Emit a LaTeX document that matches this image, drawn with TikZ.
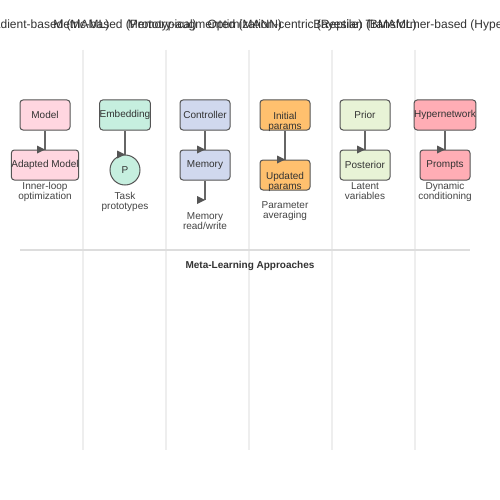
\documentclass[tikz,border=0pt]{standalone}
\usepackage{fontspec}
\setmainfont{Liberation Sans}
\begin{document}
\begin{tikzpicture}[x=1pt,y=-1pt,
  box/.style={draw=c555,line width=1pt,rounded corners=3pt,minimum width=50pt,minimum height=30pt,inner sep=0pt,font=\fontsize{10}{10}\selectfont,text=c333},
  lbl/.style={font=\fontsize{10}{10}\selectfont,text=c333,inner sep=0pt,align=center},
  sub/.style={font=\fontsize{10}{10}\selectfont,text=c444,inner sep=0pt,align=center},
  ttl/.style={font=\fontsize{12}{12}\selectfont,text=c333,inner sep=0pt},
  conn/.style={draw=c666,line width=1.6pt},
  sep/.style={draw=ceee,line width=2pt}]
\definecolor{c333}{HTML}{333333}
\definecolor{c444}{HTML}{444444}
\definecolor{c555}{HTML}{555555}
\definecolor{c666}{HTML}{666666}
\definecolor{ceee}{HTML}{EEEEEE}
\definecolor{cddd}{HTML}{DDDDDD}
\definecolor{fpink}{HTML}{FFD6E0}
\definecolor{fmint}{HTML}{C6EFDF}
\definecolor{flav}{HTML}{D0D8EE}
\definecolor{forange}{HTML}{FFC06E}
\definecolor{fgreen}{HTML}{E8F3D6}
\definecolor{fred}{HTML}{FFADB5}
\newcommand{\tipat}[1]{\fill[c555] (#1) -- ++(-8,-4) -- ++(0,8) -- cycle;}
\useasboundingbox[fill=white] (0,0) rectangle (500,500);
% separators
\foreach \x in {83,166,249,332,415} \draw[sep] (\x,50) -- (\x,450);
\draw[draw=cddd,line width=1.5pt] (20,250) -- (470,250);
% titles
\node[ttl] (t1) at (45,25) {Gradient-based (MAML)};
\node[ttl] (t2) at (125,25) {Metric-based (Prototypical)};
\node[ttl] (t3) at (205,25) {Memory-augmented (MANN)};
\node[ttl] (t4) at (285,25) {Optimization-centric (Reptile)};
\node[ttl] (t5) at (365,25) {Bayesian (BMAML)};
\node[ttl] (t6) at (459,25) {Transformer-based (Hypernetwork)};
% column 1
\node[box,fill=fpink] (m1) at (45,115) {Model};
\node[box,fill=fpink] (a1) at (45,165) {Adapted Model};
\draw[conn] (m1.south) -- (a1.north);
\tipat{45,149.5}
\node[sub] (s1) at (45,191.5) {Inner-loop\\optimization};
% column 2
\node[box,fill=fmint] (m2) at (125,115) {Embedding};
\node[draw=c555,line width=1pt,circle,minimum size=30pt,inner sep=0pt,fill=fmint,font=\fontsize{10}{10}\selectfont,text=c333] (a2) at (125,170) {P};
\draw[conn] (m2.south) -- (a2.north);
\tipat{125,154.5}
\node[sub] (s2) at (125,201.5) {Task\\prototypes};
% column 3
\node[box,fill=flav] (m3) at (205,115) {Controller};
\node[box,fill=flav] (a3) at (205,165) {Memory};
\coordinate (e3) at (205,200);
\draw[conn] (m3.south) -- (a3.north);
\tipat{205,149.5}
\draw[conn] (a3.south) -- (e3);
\tipat{e3}
\node[sub] (s3) at (205,221.5) {Memory\\read/write};
% column 4
\node[box,fill=forange] (m4) at (285,115) {};
\node[lbl] (l4) at (285,121.5) {Initial\\params};
\node[box,fill=forange] (a4) at (285,175) {};
\node[lbl] (l4b) at (285,181.5) {Updated\\params};
\draw[conn] (m4.south) -- (a4.north);
\tipat{285,159.5}
\node[sub] (s4) at (285,211.5) {Parameter\\averaging};
% column 5
\node[box,fill=fgreen] (m5) at (365,115) {Prior};
\node[box,fill=fgreen] (a5) at (365,165) {Posterior};
\draw[conn] (m5.south) -- (a5.north);
\tipat{365,149.5}
\node[sub] (s5) at (365,191.5) {Latent\\variables};
% column 6
\node[box,fill=fred] (m6) at (445,115) {Hypernetwork};
\node[box,fill=fred] (a6) at (445,165) {Prompts};
\draw[conn] (m6.south) -- (a6.north);
\tipat{445,149.5}
\node[sub] (s6) at (445,191.5) {Dynamic\\conditioning};
% caption
\node[font=\bfseries\fontsize{10}{10}\selectfont,text=c333,inner sep=0pt] (cap) at (250,266) {Meta-Learning Approaches};
\end{tikzpicture}
\end{document}
